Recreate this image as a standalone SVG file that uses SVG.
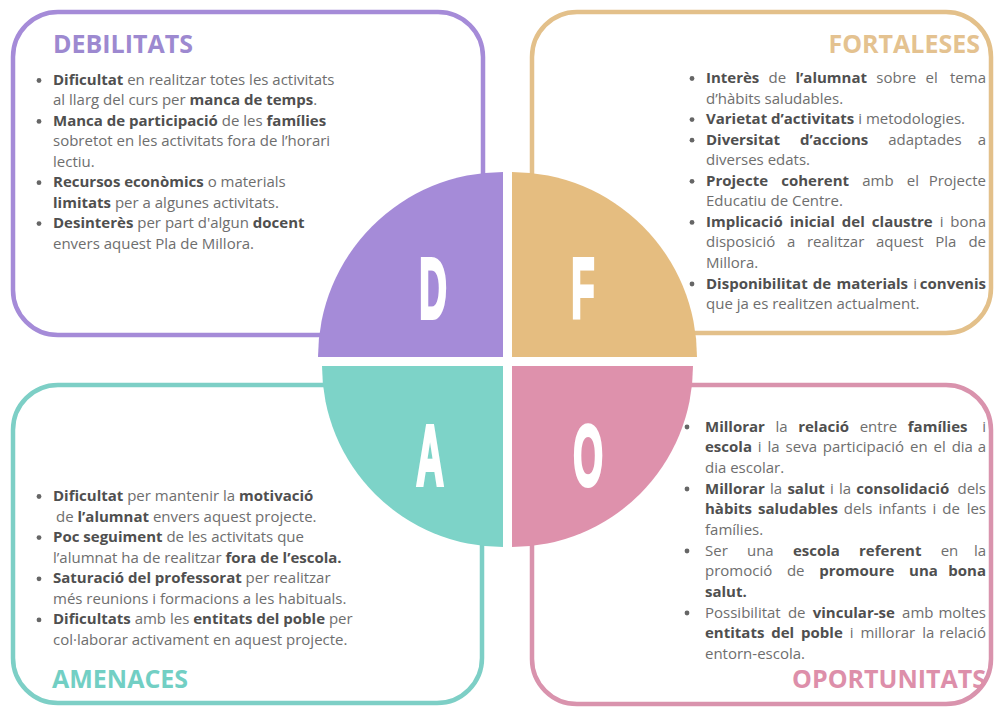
<svg xmlns="http://www.w3.org/2000/svg" width="994" height="707" viewBox="0 0 994 707">
<style>
.box{fill:none;stroke-width:4.5}
.t{font-family:"Open Sans","Liberation Sans",sans-serif;font-size:15px;fill:#6e6e6e}
.b{font-weight:700;fill:#4f4f4f}
.e{text-anchor:end}
.u{fill:#666}
.ttl{font-family:"Open Sans","Liberation Sans",sans-serif;font-size:25px;font-weight:700}
.L{font-family:"Liberation Sans","DejaVu Sans",sans-serif;font-size:85px;font-weight:700;fill:#fff;stroke:#fff;stroke-width:4;stroke-linejoin:miter;text-anchor:middle}
</style>
<rect width="994" height="707" fill="#fff"/>

<g id="debilitats">
<rect class="box" x="13" y="12" width="470" height="323" rx="45" stroke="#a58bd8"/>
<path d="M503,357 L318,357 A185,185 0 0 1 503,172 Z" fill="#a58bd8"/>
<text class="L" transform="translate(433,318) scale(0.45,1)">D</text>
<text class="ttl" x="53" y="53" fill="#9d89d0">DEBILITATS</text>
<circle class="u" cx="39" cy="80.5" r="2.4"/>
<text class="t" x="53" y="85"><tspan class="b">Dificultat</tspan> en realitzar totes les activitats</text>
<text class="t" x="53" y="105.4">al llarg del curs per <tspan class="b">manca de temps</tspan>.</text>
<circle class="u" cx="39" cy="121.4" r="2.4"/>
<text class="t" x="53" y="125.9"><tspan class="b">Manca de participació</tspan> de les <tspan class="b">famílies</tspan></text>
<text class="t" x="53" y="146.3">sobretot en les activitats fora de l’horari</text>
<text class="t" x="53" y="166.8">lectiu.</text>
<circle class="u" cx="39" cy="182.7" r="2.4"/>
<text class="t" x="53" y="187.2"><tspan class="b">Recursos econòmics</tspan> o materials</text>
<text class="t" x="53" y="207.6"><tspan class="b">limitats</tspan> per a algunes activitats.</text>
<circle class="u" cx="39" cy="223.6" r="2.4"/>
<text class="t" x="53" y="228.1"><tspan class="b">Desinterès</tspan> per part d'algun <tspan class="b">docent</tspan></text>
<text class="t" x="53" y="248.5">envers aquest Pla de Millora.</text>
</g>

<g id="fortaleses">
<rect class="box" x="532" y="12" width="459" height="321" rx="45" stroke="#e3c08a"/>
<path d="M512,357 L512,172 A185,185 0 0 1 697,357 Z" fill="#e5bd80"/>
<text class="L" transform="translate(583,318) scale(0.45,1)">F</text>
<text class="ttl e" x="980" y="53" fill="#e4c290">FORTALESES</text>
<circle class="u" cx="692" cy="78.5" r="2.4"/>
<text class="t" style="word-spacing:5.4px"><tspan x="706" y="83"><tspan class="b">Interès</tspan> de <tspan class="b">l’alumnat</tspan> sobre el</tspan><tspan class="e" x="986" y="83">tema</tspan></text>
<text class="t" x="706" y="103.6">d’hàbits saludables.</text>
<circle class="u" cx="692" cy="119.6" r="2.4"/>
<text class="t" x="706" y="124.1"><tspan class="b">Varietat d’activitats</tspan> i metodologies.</text>
<circle class="u" cx="692" cy="140.2" r="2.4"/>
<text class="t" style="word-spacing:16px"><tspan x="706" y="144.7"><tspan class="b">Diversitat d’accions</tspan> adaptades</tspan><tspan class="e" x="986" y="144.7">a</tspan></text>
<text class="t" x="706" y="165.2">diverses edats.</text>
<circle class="u" cx="692" cy="181.3" r="2.4"/>
<text class="t" style="word-spacing:9.3px"><tspan x="706" y="185.8"><tspan class="b">Projecte coherent</tspan> amb el</tspan><tspan class="e" x="986" y="185.8">Projecte</tspan></text>
<text class="t" x="706" y="206.3">Educatiu de Centre.</text>
<circle class="u" cx="692" cy="222.4" r="2.4"/>
<text class="t" style="word-spacing:3.2px"><tspan x="706" y="226.9"><tspan class="b">Implicació inicial del claustre</tspan> i</tspan><tspan class="e" x="986" y="226.9">bona</tspan></text>
<text class="t" style="word-spacing:7.8px"><tspan x="706" y="247.4">disposició a realitzar aquest Pla</tspan><tspan class="e" x="986" y="247.4">de</tspan></text>
<text class="t" x="706" y="268">Millora.</text>
<circle class="u" cx="692" cy="284" r="2.4"/>
<text class="t" style="word-spacing:1.3px"><tspan x="706" y="288.5"><tspan class="b">Disponibilitat de materials</tspan> i</tspan><tspan class="b e" x="986" y="288.5">convenis</tspan></text>
<text class="t" x="706" y="309">que ja es realitzen actualment.</text>
</g>

<g id="amenaces">
<rect class="box" x="13" y="385" width="469" height="318" rx="45" stroke="#7dcfc6"/>
<path d="M503,366 L503,547 A181,181 0 0 1 322,366 Z" fill="#7dd3c8"/>
<text class="L" transform="translate(430,485) scale(0.45,1)">A</text>
<text class="ttl" x="52" y="688" fill="#72cfc4">AMENACES</text>
<circle class="u" cx="39" cy="496.5" r="2.4"/>
<text class="t" x="53" y="501"><tspan class="b">Dificultat</tspan> per mantenir la <tspan class="b">motivació</tspan></text>
<text class="t" x="56" y="521.6">de <tspan class="b">l’alumnat</tspan> envers aquest projecte.</text>
<circle class="u" cx="39" cy="537.6" r="2.4"/>
<text class="t" x="53" y="542.1"><tspan class="b">Poc seguiment</tspan> de les activitats que</text>
<text class="t" x="53" y="562.7">l’alumnat ha de realitzar <tspan class="b">fora de l’escola.</tspan></text>
<circle class="u" cx="39" cy="578.8" r="2.4"/>
<text class="t" x="53" y="583.3"><tspan class="b">Saturació del professorat</tspan> per realitzar</text>
<text class="t" x="53" y="603.9">més reunions i formacions a les habituals.</text>
<circle class="u" cx="39" cy="619.9" r="2.4"/>
<text class="t" x="53" y="624.4"><tspan class="b">Dificultats</tspan> amb les <tspan class="b">entitats del poble</tspan> per</text>
<text class="t" x="53" y="645">col·laborar activament en aquest projecte.</text>
</g>

<g id="oportunitats">
<rect class="box" x="532" y="385" width="459" height="319" rx="45" stroke="#d993ad"/>
<path d="M512,366 L693,366 A181,181 0 0 1 512,547 Z" fill="#de91ac"/>
<text class="L" transform="translate(588,485) scale(0.45,1)">O</text>
<text class="ttl e" x="986" y="688" fill="#dd8faa">OPORTUNITATS</text>
<circle class="u" cx="687" cy="427" r="2.4"/>
<text class="t" style="word-spacing:6.7px"><tspan x="705" y="431.5"><tspan class="b">Millorar</tspan> la <tspan class="b">relació</tspan> entre <tspan class="b">famílies</tspan></tspan><tspan class="e" x="986" y="431.5">i</tspan></text>
<text class="t" style="word-spacing:2px"><tspan x="705" y="452.2"><tspan class="b">escola</tspan> i la seva participació en el dia</tspan><tspan class="e" x="986" y="452.2">a</tspan></text>
<text class="t" x="705" y="472.8">dia escolar.</text>
<circle class="u" cx="687" cy="489" r="2.4"/>
<text class="t" style="word-spacing:1.3px"><tspan x="705" y="493.5"><tspan class="b">Millorar</tspan> la <tspan class="b">salut</tspan> i la <tspan class="b">consolidació</tspan></tspan><tspan class="e" x="986" y="493.5">dels</tspan></text>
<text class="t" style="word-spacing:2.1px"><tspan x="705" y="514.2"><tspan class="b">hàbits saludables</tspan> dels infants i de</tspan><tspan class="e" x="986" y="514.2">les</tspan></text>
<text class="t" x="705" y="534.9">famílies.</text>
<circle class="u" cx="687" cy="551" r="2.4"/>
<text class="t" style="word-spacing:15.3px"><tspan x="705" y="555.5">Ser una <tspan class="b">escola referent</tspan> en</tspan><tspan class="e" x="986" y="555.5">la</tspan></text>
<text class="t" style="word-spacing:10.8px"><tspan x="705" y="576.2">promoció de <tspan class="b">promoure una</tspan></tspan><tspan class="b e" x="986" y="576.2">bona</tspan></text>
<text class="t b" x="705" y="596.9">salut.</text>
<circle class="u" cx="687" cy="613" r="2.4"/>
<text class="t" style="word-spacing:3.3px"><tspan x="705" y="617.5">Possibilitat de <tspan class="b">vincular-se</tspan> amb</tspan><tspan class="e" x="986" y="617.5">moltes</tspan></text>
<text class="t" style="word-spacing:3px"><tspan x="705" y="638.2"><tspan class="b">entitats del poble</tspan> i millorar la</tspan><tspan class="e" x="986" y="638.2">relació</tspan></text>
<text class="t" x="705" y="658.9">entorn-escola.</text>
</g>
</svg>
